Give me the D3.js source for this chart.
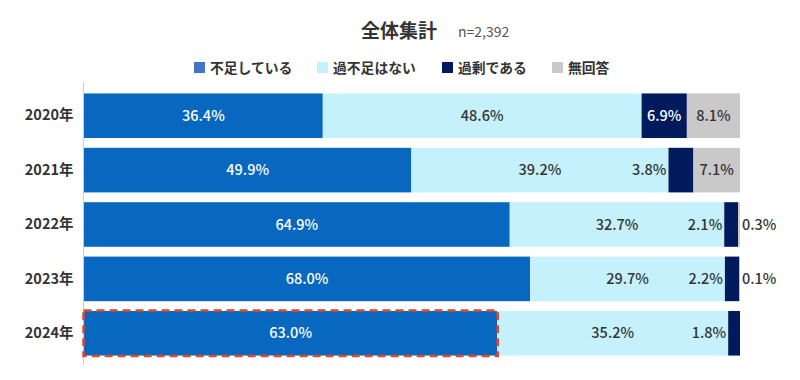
<!DOCTYPE html>
<html>
<head>
<meta charset="utf-8">
<script src="https://cdn.jsdelivr.net/npm/d3@7"></script>
<style>
  body { margin: 0; background: #fff; }
  svg { display: block; font-family: "Noto Sans CJK JP", "Noto Sans", sans-serif; }
</style>
</head>
<body>
<svg id="chart" width="800" height="380"></svg>
<script>
// data
const years = ["2020年", "2021年", "2022年", "2023年", "2024年"];
const series = ["不足している", "過不足はない", "過剰である", "無回答"];
const shortage = [36.4, 49.9, 64.9, 68.0, 63.0];
const balanced = [48.6, 39.2, 32.7, 29.7, 35.2];
const surplus = [6.9, 3.8, 2.1, 2.2, 1.8];
const noAnswer = [8.1, 7.1, 0.3, 0.1, 0];
const colors = ["#0868bf", "#c4f1fc", "#001a5c", "#c9c9c9"];
const legendColors = ["#4472c4", "#c4f1fc", "#001a5c", "#c9c9c9"];
const highlightYear = "2024年";

let svg = d3.select("#chart");
let margin = {left: 84, right: 60, top: 82, bottom: 18};
let width = 800, height = 380;

let rows = years.map((y, i) => ({
  year: y,
  "不足している": shortage[i],
  "過不足はない": balanced[i],
  "過剰である": surplus[i],
  "無回答": noAnswer[i]
}));

let stacked = d3.stack().keys(series)(rows);

let x = d3.scaleLinear().domain([0, 100]).range([margin.left, 740]);
let y = d3.scaleBand().domain(years)
  .range([margin.top + 6, height - margin.bottom - 1])
  .paddingInner(0.18).paddingOuter(0.1);

// title
svg.append("text")
  .attr("x", 399).attr("y", 38)
  .attr("text-anchor", "middle")
  .attr("font-size", 19).attr("font-weight", 700).attr("fill", "#333")
  .text("全体集計");
svg.append("text")
  .attr("x", 458).attr("y", 37)
  .attr("font-size", 14).attr("fill", "#555")
  .text("n=2,392");

// legend
let legendX = [194, 317, 442, 552];
let legend = svg.append("g").selectAll("g")
  .data(series).enter().append("g")
  .attr("transform", (d, i) => `translate(${legendX[i]},62)`);
legend.append("rect").attr("width", 11).attr("height", 11)
  .attr("fill", (d, i) => legendColors[i]);
legend.append("text").attr("x", 16).attr("y", 11)
  .attr("font-size", 13.8).attr("font-weight", 700).attr("fill", "#333")
  .text(d => d);

// bars
let layers = svg.append("g").selectAll("g")
  .data(stacked).enter().append("g")
  .attr("fill", (d, i) => colors[i]);
layers.selectAll("rect")
  .data(d => d).enter().append("rect")
  .attr("x", d => x(d[0]))
  .attr("y", d => y(d.data.year))
  .attr("width", d => x(d[1]) - x(d[0]))
  .attr("height", y.bandwidth());

// labels
let labels = svg.append("g").attr("font-size", 14.5).attr("font-weight", 500);
stacked.forEach((layer, si) => {
  layer.forEach(d => {
    let v = d[1] - d[0];
    if (v <= 0) return;
    let w = x(d[1]) - x(d[0]);
    let cy = y(d.data.year) + y.bandwidth() / 2 + 5;
    let t = labels.append("text").attr("y", cy).text(v.toFixed(1) + "%");
    if (w > 42) {
      t.attr("x", (x(d[0]) + x(d[1])) / 2).attr("text-anchor", "middle")
        .attr("fill", si === 0 || si === 2 ? "#fff" : "#333");
    } else if (si === 2) {
      t.attr("x", x(d[0]) - 2).attr("text-anchor", "end").attr("fill", "#333");
    } else {
      t.attr("x", x(d[1]) + 2).attr("text-anchor", "start").attr("fill", "#333");
    }
  });
});

// axis
let yAxis = svg.append("g")
  .attr("transform", `translate(${margin.left - 0.5},0)`)
  .call(d3.axisLeft(y).tickSize(0).tickPadding(10));
yAxis.select(".domain").attr("stroke", "#ccc").attr("d", `M0,${margin.top}V${height - 15}`);
yAxis.selectAll("text")
  .attr("font-size", 14.5).attr("font-weight", 700).attr("fill", "#333")
  .attr("font-family", "'Noto Sans CJK JP', sans-serif");

// highlight
let hi = rows.find(r => r.year === highlightYear);
svg.append("rect")
  .attr("x", x(0) - 0.5)
  .attr("y", y(highlightYear) - 0.5)
  .attr("width", x(hi["不足している"]) - x(0) + 1)
  .attr("height", y.bandwidth() + 1)
  .attr("fill", "none")
  .attr("stroke", "#e0482c")
  .attr("stroke-width", 2.5)
  .attr("stroke-dasharray", "8,5");
</script>
</body>
</html>
